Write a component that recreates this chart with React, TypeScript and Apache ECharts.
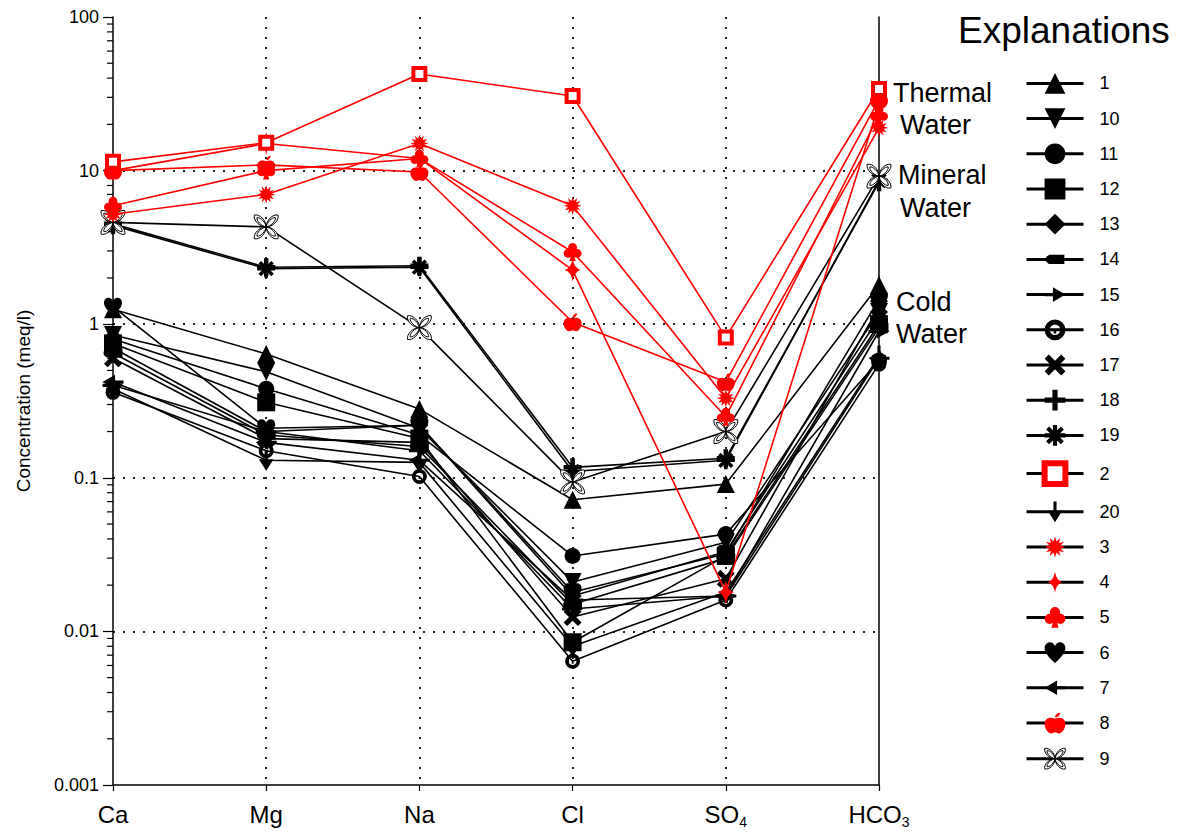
import React, { useEffect, useRef } from 'react';
import * as echarts from 'echarts';

// ---------- data ----------
const ions = ['Ca', 'Mg', 'Na', 'Cl', 'SO4', 'HCO3'];
const legendOrder = ['1', '10', '11', '12', '13', '14', '15', '16', '17', '18', '19', '2', '20', '3', '4', '5', '6', '7', '8', '9'];

// concentrations (meq/l) in order Ca, Mg, Na, Cl, SO4, HCO3
const s1 = [1.25, 0.64, 0.28, 0.072, 0.091, 1.8];
const s6 = [1.3, 0.21, 0.22, 0.018, 0.032, 1.45];
const s7 = [0.42, 0.17, 0.13, 0.016, 0.017, 0.6];
const s10 = [0.85, 0.49, 0.21, 0.021, 0.038, 1.2];
const s11 = [0.8, 0.38, 0.19, 0.031, 0.043, 0.58];
const s12 = [0.75, 0.31, 0.18, 0.0085, 0.031, 1.0];
const s13 = [0.7, 0.2, 0.22, 0.017, 0.033, 1.1];
const s14 = [0.65, 0.19, 0.16, 0.015, 0.03, 0.95];
const s15 = [0.4, 0.2, 0.15, 0.014, 0.017, 0.9];
const s16 = [0.36, 0.15, 0.102, 0.0064, 0.016, 0.55];
const s17 = [0.6, 0.18, 0.17, 0.0124, 0.022, 1.3];
const s20 = [0.38, 0.13, 0.126, 0.008, 0.018, 0.62];
const s9 = [4.6, 4.3, 0.95, 0.094, 0.2, 9.2];
const s18 = [4.5, 2.35, 2.4, 0.117, 0.134, 8.4];
const s19 = [4.4, 2.3, 2.35, 0.11, 0.13, 8.6];
const s2 = [11.4, 15.2, 42.5, 30.6, 0.82, 34];
const s3 = [5.2, 7.0, 15, 5.9, 0.33, 19];
const s4 = [10, 15, 12, 2.25, 0.018, 27];
const s5 = [5.9, 10, 12, 2.95, 0.25, 23];
const s8 = [10, 10.9, 9.8, 1.03, 0.42, 29];

// log axis minor ticks (2..9 within each decade)
const decades = [0.001, 0.01, 0.1, 1, 10];
const minorMultipliers = [2, 3, 4, 5, 6, 7, 8, 9];

// ---------- symbol shapes ----------
const pad = 'M0,0 L0.01,0 L0,0.01 Z M20,20 L19.99,20 L20,19.99 Z ';
function starPath(n: number, ro: number, ri: number) {
  let d = '';
  for (let i = 0; i < 2 * n; i++) {
    const r = i % 2 ? ri : ro;
    const a = (Math.PI * i) / n - Math.PI / 2;
    d += (i ? 'L' : 'M') + (10 + r * Math.cos(a)).toFixed(2) + ',' + (10 + r * Math.sin(a)).toFixed(2) + ' ';
  }
  return d + 'Z';
}
function asteriskPath() {
  let d = '';
  for (let k = 0; k < 4; k++) {
    const a = (Math.PI * k) / 4;
    const dx = Math.cos(a), dy = Math.sin(a);
    const px = -dy, py = dx;
    const L = 10, w = 2;
    const pts = [
      [10 + dx * L + px * w, 10 + dy * L + py * w],
      [10 - dx * L + px * w, 10 - dy * L + py * w],
      [10 - dx * L - px * w, 10 - dy * L - py * w],
      [10 + dx * L - px * w, 10 + dy * L - py * w],
    ];
    d += pts.map((p, i) => (i ? 'L' : 'M') + p[0].toFixed(2) + ',' + p[1].toFixed(2)).join(' ') + ' Z ';
  }
  return d;
}
const SYM: Record<string, string> = {
  '1': 'triangle',
  '10': 'path://M0,1 L20,1 L10,19 Z',
  '11': 'circle',
  '12': 'rect',
  '13': 'diamond',
  '14': 'path://' + pad + 'M6,5.5 L19,5.5 L19,14.5 L6,14.5 C3,14.5 1,12 1,10 C1,8 3,5.5 6,5.5 Z',
  '15': 'path://' + pad + 'M0,8.5 L8,8.5 L8,3 L20,10 L8,17 L8,11.5 L0,11.5 Z',
  '16': 'path://M10,0 A10,10 0 1,1 10,20 A10,10 0 1,1 10,0 Z M10,5 A5,5 0 1,0 10,15 A5,5 0 1,0 10,5 Z M8.8,10.5 L11.2,10.5 L11.2,13.5 L8.8,13.5 Z',
  '17': 'path://M0,4 L4,0 L10,6 L16,0 L20,4 L14,10 L20,16 L16,20 L10,14 L4,20 L0,16 L6,10 Z',
  '18': 'path://M7.5,0 L12.5,0 L12.5,7.5 L20,7.5 L20,12.5 L12.5,12.5 L12.5,20 L7.5,20 L7.5,12.5 L0,12.5 L0,7.5 L7.5,7.5 Z',
  '19': 'path://' + asteriskPath(),
  '2': 'rect',
  '20': 'path://' + pad + 'M8.5,0 L11.5,0 L11.5,9 L17,9 L10,20 L3,9 L8.5,9 Z',
  '3': 'path://' + starPath(12, 10, 5.5),
  '4': 'path://' + pad + 'M10,0 Q11.4,8.6 17,10 Q11.4,11.4 10,20 Q8.6,11.4 3,10 Q8.6,8.6 10,0 Z',
  '5': 'path://M5.2,5 A4.8,4.8 0 1,1 14.8,5 A4.8,4.8 0 1,1 5.2,5 Z M0.2,11.5 A4.8,4.8 0 1,1 9.8,11.5 A4.8,4.8 0 1,1 0.2,11.5 Z M10.2,11.5 A4.8,4.8 0 1,1 19.8,11.5 A4.8,4.8 0 1,1 10.2,11.5 Z M10,9 L13.5,20 L6.5,20 Z',
  '6': 'path://M10,19 C3,13 0,9 0,5.5 C0,2 2.5,0 5,0 C7.5,0 9,1.5 10,3.5 C11,1.5 12.5,0 15,0 C17.5,0 20,2 20,5.5 C20,9 17,13 10,19 Z',
  '7': 'path://' + pad + 'M20,8.5 L12,8.5 L12,3 L0,10 L12,17 L12,11.5 L20,11.5 Z',
  '8': 'path://M10,6 C13,4 18,5 18,11 C18,16 15,20 13,20 C11.5,20 11,19 10,19 C9,19 8.5,20 7,20 C5,20 2,16 2,11 C2,5 7,4 10,6 Z M10,5 C10,2.5 11.5,0.5 14,0 C14,2.5 12.5,4.5 10,5 Z',
  '9': 'path://M10,10 C5,10 0,5 1,1 C5,0 10,5 10,10 Z M10,10 C6.5,9.5 2.5,5.5 3,3 C5.5,2.5 9.5,6.5 10,10 Z ' +
    'M10,10 C10,5 15,0 19,1 C20,5 15,10 10,10 Z M10,10 C10.5,6.5 14.5,2.5 17,3 C17.5,5.5 13.5,9.5 10,10 Z ' +
    'M10,10 C15,10 20,15 19,19 C15,20 10,15 10,10 Z M10,10 C13.5,10.5 17.5,14.5 17,17 C14.5,17.5 10.5,13.5 10,10 Z ' +
    'M10,10 C10,15 5,20 1,19 C0,15 5,10 10,10 Z M10,10 C9.5,13.5 5.5,17.5 3,17 C2.5,14.5 6.5,10.5 10,10 Z',
};

const RED = '#ff0000';
const FONT = '"Liberation Sans", Arial, Helvetica, sans-serif';

const seriesList: { name: string; values: number[]; red: boolean }[] = [
  { name: '6', values: s6, red: false },
  { name: '1', values: s1, red: false },
  { name: '7', values: s7, red: false },
  { name: '10', values: s10, red: false },
  { name: '11', values: s11, red: false },
  { name: '12', values: s12, red: false },
  { name: '13', values: s13, red: false },
  { name: '14', values: s14, red: false },
  { name: '15', values: s15, red: false },
  { name: '16', values: s16, red: false },
  { name: '17', values: s17, red: false },
  { name: '20', values: s20, red: false },
  { name: '18', values: s18, red: false },
  { name: '19', values: s19, red: false },
  { name: '9', values: s9, red: false },
  { name: '3', values: s3, red: true },
  { name: '5', values: s5, red: true },
  { name: '4', values: s4, red: true },
  { name: '8', values: s8, red: true },
  { name: '2', values: s2, red: true },
];

function sizeFor(name: string): number {
  if (name === '9') return 24;
  if (name === '2') return 12;
  if (name === '14' || name === '15' || name === '7' || name === '20') return 21;
  if (name === '4') return 23;
  if (name === '16') return 15;
  if (name === '11') return 16;
  return 18;
}

export default function App() {
  const ref = useRef<HTMLDivElement>(null);
  useEffect(() => {
    if (!ref.current) return;
    const chart = echarts.init(ref.current, null, { renderer: 'svg' });

    const lineSeries = seriesList.map((s) => {
      const color = s.red ? RED : '#000';
      let itemStyle: any = { color };
      if (s.name === '2') itemStyle = { color: '#fff', borderColor: RED, borderWidth: 4 };
      if (s.name === '9') itemStyle = { color: '#fff', borderColor: '#000', borderWidth: 1 };
      return {
        type: 'line',
        name: s.name,
        data: s.values,
        symbol: SYM[s.name],
        symbolSize: sizeFor(s.name),
        showAllSymbol: true,
        itemStyle,
        lineStyle: { color, width: 1.6 },
        emphasis: { disabled: true },
        z: s.red ? 3 : 2,
      };
    });

    const minorData: any[] = [];
    decades.forEach((d) => minorMultipliers.forEach((m) => minorData.push(['Ca', m * d])));

    const subRich = {
      sub: { fontSize: 14, fontFamily: FONT, color: '#000', verticalAlign: 'bottom', lineHeight: 14 },
    };
    const dotted = { color: '#222', width: 2, type: [2, 8] };

    chart.setOption({
      animation: false,
      textStyle: { fontFamily: FONT },
      grid: { left: 113, right: 306, top: 17, bottom: 54, containLabel: false },
      xAxis: {
        type: 'category',
        data: ions,
        boundaryGap: false,
        axisLine: { lineStyle: { color: '#000', width: 1.5 } },
        axisTick: { show: true, interval: 0, length: 6, lineStyle: { color: '#000', width: 1.2 } },
        axisLabel: {
          interval: 0,
          fontSize: 24,
          color: '#000',
          fontFamily: FONT,
          margin: 14,
          lineHeight: 30,
          formatter: (v: string) => (v === 'SO4' ? 'SO{sub|4}' : v === 'HCO3' ? 'HCO{sub|3}' : v),
          rich: subRich,
        },
        splitLine: { show: true, interval: 0, showMinLine: false, showMaxLine: false, lineStyle: dotted },
      },
      yAxis: [
        {
          type: 'log',
          logBase: 10,
          min: 0.001,
          max: 100,
          name: 'Concentration (meq/l)',
          nameLocation: 'middle',
          nameGap: 80,
          nameTextStyle: { fontSize: 19, color: '#000', fontFamily: FONT },
          axisLine: { show: true, lineStyle: { color: '#000', width: 1.5 } },
          axisTick: { show: true, length: 10, lineStyle: { color: '#000', width: 1.2 } },
          axisLabel: {
            fontSize: 18,
            color: '#000',
            margin: 14,
            fontFamily: FONT,
            formatter: (v: number) => String(Number(Number(v).toPrecision(6))),
          },
          splitLine: { show: true, showMinLine: false, showMaxLine: false, lineStyle: dotted },
        },
        {
          type: 'log',
          logBase: 10,
          min: 0.001,
          max: 100,
          position: 'right',
          axisLine: { show: true, onZero: false, lineStyle: { color: '#000', width: 1.5 } },
          axisTick: { show: false },
          axisLabel: { show: false },
          splitLine: { show: false },
        },
      ],
      legend: {
        orient: 'vertical',
        left: 1025,
        top: 73,
        padding: 0,
        itemWidth: 57,
        itemHeight: 26,
        itemGap: 14.4,
        selectedMode: false,
        textStyle: { fontSize: 18, color: '#000', fontFamily: FONT, padding: [0, 0, 0, 11] },
        data: legendOrder.map((n) => {
          const item: any = { name: n, lineStyle: { color: '#000', width: 3 } };
          if (n === '2') item.itemStyle = { borderWidth: 6 };
          if (n === '9') item.itemStyle = { borderWidth: 1 };
          return item;
        }),
      },
      graphic: [
        { type: 'text', x: 958, y: 30, style: { text: 'Explanations', fontSize: 37, fontFamily: FONT, fill: '#000', verticalAlign: 'middle' } },
        { type: 'text', x: 893, y: 93, style: { text: 'Thermal', fontSize: 27, fontFamily: FONT, fill: '#000', verticalAlign: 'middle' } },
        { type: 'text', x: 900, y: 125, style: { text: 'Water', fontSize: 27, fontFamily: FONT, fill: '#000', verticalAlign: 'middle' } },
        { type: 'text', x: 898, y: 175, style: { text: 'Mineral', fontSize: 27, fontFamily: FONT, fill: '#000', verticalAlign: 'middle' } },
        { type: 'text', x: 900, y: 208, style: { text: 'Water', fontSize: 27, fontFamily: FONT, fill: '#000', verticalAlign: 'middle' } },
        { type: 'text', x: 896, y: 302, style: { text: 'Cold', fontSize: 27, fontFamily: FONT, fill: '#000', verticalAlign: 'middle' } },
        { type: 'text', x: 896, y: 334, style: { text: 'Water', fontSize: 27, fontFamily: FONT, fill: '#000', verticalAlign: 'middle' } },
      ],
      series: [
        ...lineSeries,
        {
          type: 'custom',
          name: 'minorTicks',
          silent: true,
          clip: false,
          data: minorData,
          encode: { x: 0, y: 1 },
          renderItem: (params: any, api: any) => {
            const p = api.coord([api.value(0), api.value(1)]);
            return {
              type: 'line',
              shape: { x1: p[0] - 6, y1: p[1], x2: p[0], y2: p[1] },
              style: { stroke: '#000', lineWidth: 1.2 },
            };
          },
        },
      ],
    });
    return () => chart.dispose();
  }, []);
  return <div ref={ref} style={{ position: 'absolute', left: 0, top: 0, width: 1185, height: 839 }} />;
}
